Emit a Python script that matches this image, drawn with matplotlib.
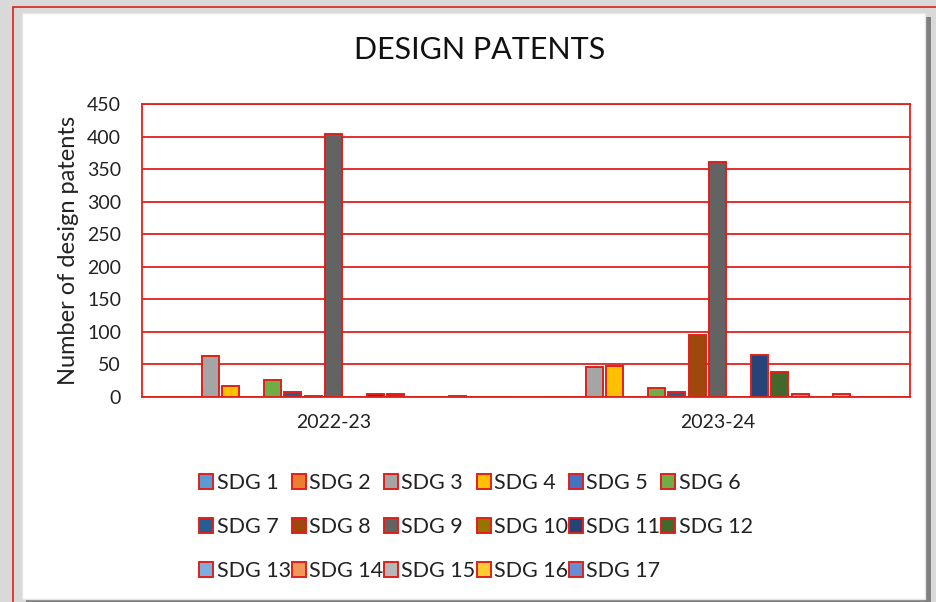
import matplotlib
matplotlib.use("Agg")
import matplotlib.pyplot as plt
from matplotlib.patches import Rectangle
import numpy as np

plt.rcParams['font.family'] = ['Lato', 'DejaVu Sans']

# ---- data ----
years = ["2022-23", "2023-24"]
sdg_labels = ["SDG %d" % i for i in range(1, 18)]
sdg_colors = ["#5B9BD5", "#ED7D31", "#A5A5A5", "#FFC000", "#4472C4", "#70AD47",
              "#255E91", "#9E480E", "#636363", "#997300", "#264478", "#43682B",
              "#7CAFDD", "#F1975A", "#B7B7B7", "#FFCD33", "#698ED0"]
vals_2022 = [0, 0, 63, 17, 0, 26, 7, 2, 404, 0, 4, 4, 0, 0, 1, 0, 0]
vals_2023 = [0, 0, 46, 47, 0, 14, 8, 95, 361, 0, 64, 38, 5, 0, 4, 0, 0]

edge_red = "#E0201B"
W, H = 937, 602

fig = plt.figure(figsize=(W / 100, H / 100), dpi=100, facecolor="#D9D9D9")


def px(x, y):
    return x / W, 1 - y / H


# ---- background frame ----
x0, y0 = px(13, 7)
fig.patches.append(Rectangle((x0, -0.1), 1.2, y0 + 0.1, transform=fig.transFigure,
                             facecolor="#D9D9D9", edgecolor=edge_red, linewidth=1.2, zorder=0))
sx, sy = px(26, 17)
sx2, sy2 = px(931, 603)
fig.patches.append(Rectangle((sx, sy2), sx2 - sx, sy - sy2, transform=fig.transFigure,
                             facecolor="#7F7F7F", edgecolor="none", zorder=0.5))
wx, wy = px(22, 13)
wx2, wy2 = px(925, 599)
fig.patches.append(Rectangle((wx, wy2), wx2 - wx, wy - wy2, transform=fig.transFigure,
                             facecolor="white", edgecolor="#E6E6E6", linewidth=1, zorder=1))

# ---- axes ----
l, t = px(142, 104)
r, b = px(910, 397)
ax = fig.add_axes([l, b, r - l, t - b])
ax.set_facecolor("white")
ax.set_zorder(2)

x = np.arange(len(years))
step = 20.6 / 384
width = 17 / 384
for i, (lab, col) in enumerate(zip(sdg_labels, sdg_colors)):
    vals = [vals_2022[i], vals_2023[i]]
    ax.bar(x + (i - 8) * step, vals, width=width, color=col, edgecolor=edge_red,
           linewidth=1.4, label=lab, zorder=3)

ax.set_xlim(-0.5, 1.5)
ax.set_ylim(0, 450)
ax.set_yticks(np.arange(0, 451, 50))
ax.set_xticks(x)
ax.set_xticklabels(years, fontsize=14, color="#222222")
ax.tick_params(axis="y", labelsize=14, colors="#222222", length=0, pad=15)
ax.tick_params(axis="x", length=0, pad=12)
ax.grid(axis="y", color=edge_red, linewidth=1.3, zorder=1)
for s in ax.spines.values():
    s.set_color(edge_red)
    s.set_linewidth(1.3)
ax.set_ylabel("Number of design patents", fontsize=17, color="#222222", labelpad=6)

tx, ty = px(480, 50)
fig.text(tx, ty, "DESIGN PATENTS", fontsize=22, ha="center", va="center", color="#111111",
         zorder=5)

# legend: matplotlib fills column by column, so reorder for row-wise reading
handles, labels = ax.get_legend_handles_labels()
ncol = 6
order = []
for c in range(ncol):
    for rr in range(3):
        k = rr * ncol + c
        if k < len(handles):
            order.append(k)
lx, ly = px(476, 527)
leg = fig.legend([handles[k] for k in order], [labels[k] for k in order],
                 loc="center", bbox_to_anchor=(lx, ly), ncol=ncol, frameon=False,
                 fontsize=15.5, handlelength=0.65, handleheight=0.65, handletextpad=0.15,
                 columnspacing=0.05, labelspacing=1.12, labelcolor="#222222")
leg.set_zorder(5)

fig.savefig("out.png", dpi=100, facecolor=fig.get_facecolor())
